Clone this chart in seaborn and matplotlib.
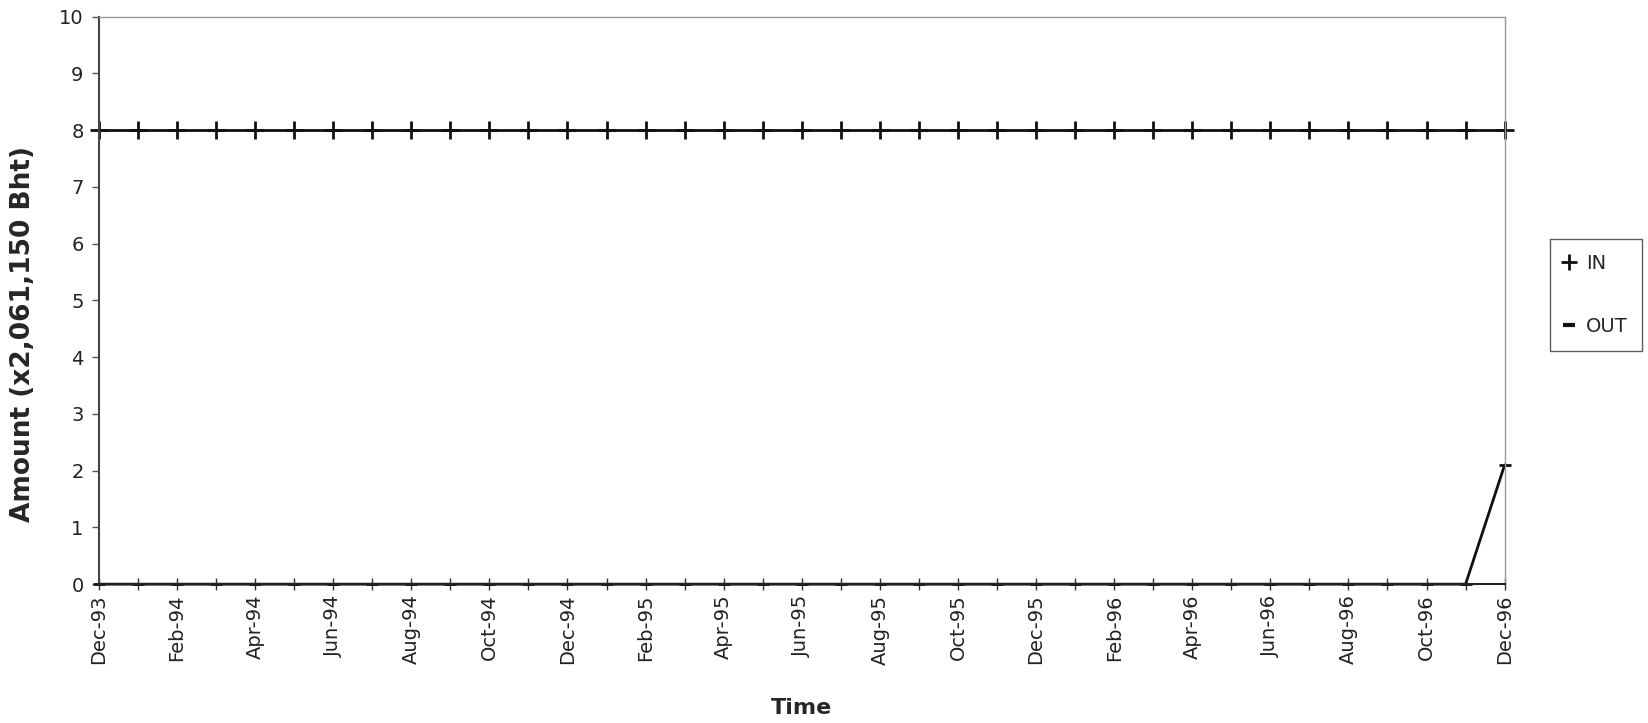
import matplotlib
matplotlib.use("Agg")
import matplotlib.pyplot as plt
from matplotlib.lines import Line2D
import seaborn as sns
import pandas as pd

months = [
    "Dec-93", "Jan-94", "Feb-94", "Mar-94", "Apr-94", "May-94", "Jun-94",
    "Jul-94", "Aug-94", "Sep-94", "Oct-94", "Nov-94", "Dec-94", "Jan-95",
    "Feb-95", "Mar-95", "Apr-95", "May-95", "Jun-95", "Jul-95", "Aug-95",
    "Sep-95", "Oct-95", "Nov-95", "Dec-95", "Jan-96", "Feb-96", "Mar-96",
    "Apr-96", "May-96", "Jun-96", "Jul-96", "Aug-96", "Sep-96", "Oct-96",
    "Nov-96", "Dec-96",
]
in_values = [8, 8, 8, 8, 8, 8, 8, 8, 8, 8, 8, 8, 8, 8, 8, 8, 8, 8, 8,
             8, 8, 8, 8, 8, 8, 8, 8, 8, 8, 8, 8, 8, 8, 8, 8, 8, 8]
out_values = [0, 0, 0, 0, 0, 0, 0, 0, 0, 0, 0, 0, 0, 0, 0, 0, 0, 0, 0,
              0, 0, 0, 0, 0, 0, 0, 0, 0, 0, 0, 0, 0, 0, 0, 0, 0, 2.1]
series_names = ["IN", "OUT"]
y_ticks = [0, 1, 2, 3, 4, 5, 6, 7, 8, 9, 10]

sns.set_theme(style="white")
plt.rcParams["font.family"] = ["DejaVu Sans"]

ink = "#111111"
pos = list(range(len(months)))
df = pd.DataFrame({
    "pos": pos * 2,
    "amount": in_values + out_values,
    "series": [series_names[0]] * len(months) + [series_names[1]] * len(months),
})

fig = plt.figure(figsize=(16.48, 7.23), dpi=100)
ax = fig.add_axes([0.060, 0.192, 0.853, 0.785])

sns.lineplot(
    data=df[df["series"] == "IN"], x="pos", y="amount",
    color=ink, marker="+", linewidth=2.0, markersize=13,
    markeredgewidth=2.0, markeredgecolor=ink, ax=ax, clip_on=False,
)
sns.lineplot(
    data=df[df["series"] == "OUT"], x="pos", y="amount",
    color=ink, marker="_", linewidth=2.0, markersize=8,
    markeredgewidth=2.0, markeredgecolor=ink, ax=ax, clip_on=False,
)

ax.set_xlim(pos[0], pos[-1])
ax.set_ylim(y_ticks[0], y_ticks[-1])
ax.set_yticks(y_ticks)
ax.set_yticklabels([str(t) for t in y_ticks], fontsize=14, color="#222222")

ax.set_xticks(pos)
ax.set_xticklabels([m if i % 2 == 0 else "" for i, m in enumerate(months)],
                   rotation=90, fontsize=14, color="#222222")
ax.tick_params(axis="x", bottom=True, direction="inout", length=9, width=1.0,
               color="#333333", pad=3)
ax.tick_params(axis="y", left=True, direction="out", length=5, width=1.0,
               color="#555555", pad=6)

for side in ("top", "right"):
    ax.spines[side].set_linestyle((0, (1, 1)))
    ax.spines[side].set_color("#999999")
    ax.spines[side].set_linewidth(1.0)
ax.spines["left"].set_color("#444444")
ax.spines["left"].set_linewidth(1.5)
ax.spines["bottom"].set_color("#222222")
ax.spines["bottom"].set_linewidth(1.5)
ax.grid(False)

ax.set_xlabel("Time", fontsize=16, fontweight="bold", labelpad=24)
ax.set_ylabel("Amount (x2,061,150 Bht)", fontsize=19, fontweight="bold")
ax.yaxis.set_label_coords(-0.045, 0.44)

handles = [
    Line2D([], [], linestyle="none", marker="+", color=ink,
           markersize=12, markeredgewidth=2.0),
    Line2D([], [], linestyle="none", marker="_", color=ink,
           markersize=8, markeredgewidth=3.0),
]
leg = fig.legend(handles, series_names, loc="upper left",
                 bbox_to_anchor=(1550 / 1648, 1 - 239 / 723), frameon=True,
                 fancybox=False, edgecolor="#333333", fontsize=14,
                 handlelength=0.5, handletextpad=0.6, labelspacing=2.3,
                 borderpad=0.75, borderaxespad=0.0)
leg.get_frame().set_linewidth(1.0)

fig.savefig("out.png", dpi=100)
